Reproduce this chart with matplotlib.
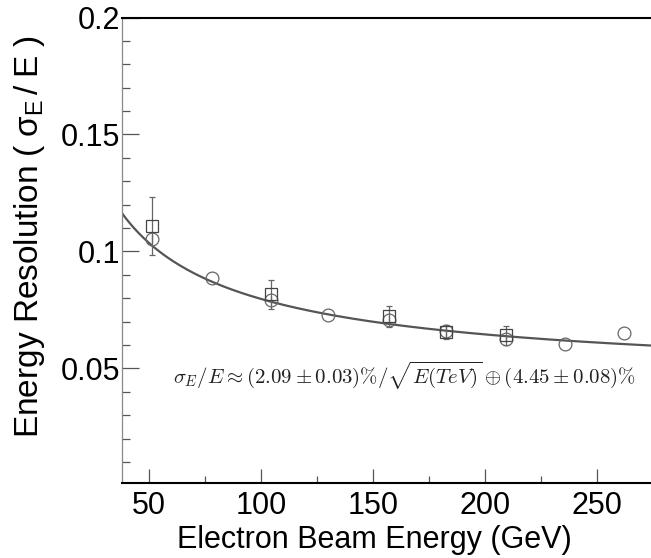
import matplotlib
matplotlib.use("Agg")
import matplotlib.pyplot as plt
import numpy as np
from matplotlib.ticker import MultipleLocator

plt.rcParams['font.family'] = ['Liberation Sans', 'DejaVu Sans']
plt.rcParams['mathtext.fontset'] = 'cm'

# Circles (data set 1)
circ_E = [51.3, 77.9, 104.3, 130.1, 157.0, 182.8, 209.5, 235.8, 262.2]
circ_res = [0.1054, 0.0886, 0.0791, 0.0729, 0.0709, 0.0660, 0.0627, 0.0605, 0.0651]
circ_err = [0.0020, 0.0, 0.0020, 0.0, 0.0020, 0.0020, 0.0015, 0.0, 0.0]

# Squares (data set 2)
sq_E = [51.3, 104.3, 157.0, 182.8, 209.5]
sq_res = [0.1108, 0.0816, 0.0722, 0.0657, 0.0641]
sq_err = [0.0125, 0.0063, 0.0043, 0.0030, 0.0040]

# Fit parameters (%): stochastic term a/sqrt(E[TeV]) (+) constant term b
fit_a = 2.09
fit_b = 4.45

xlim = (37.8, 274.3)
ylim = (0.001, 0.2)

fig = plt.figure(figsize=(6.51, 5.58), dpi=100)
ax = fig.add_axes([0.1874, 0.1344, 1.0 - 0.1874, 0.9686 - 0.1344])

E = np.linspace(xlim[0], xlim[1], 400)
fit = np.sqrt((fit_a / np.sqrt(E / 1000.0)) ** 2 + fit_b ** 2) / 100.0
ax.plot(E, fit, color='#555555', lw=1.6, zorder=2)

ax.errorbar(circ_E, circ_res, yerr=circ_err, fmt='o', ms=9.2, mfc='none',
            mec='#666666', mew=0.9, ecolor='#666666', elinewidth=0.9,
            capsize=0, zorder=3)
ax.errorbar(sq_E, sq_res, yerr=sq_err, fmt='s', ms=8.8, mfc='none',
            mec='#444444', mew=0.9, ecolor='#666666', elinewidth=0.9,
            capsize=2, capthick=0.9, zorder=3)

ax.set_xlim(*xlim)
ax.set_ylim(*ylim)

ax.xaxis.set_major_locator(MultipleLocator(50))
ax.xaxis.set_minor_locator(MultipleLocator(25))
ax.set_yticks([0.05, 0.1, 0.15, 0.2])
ax.set_yticklabels(['0.05', '0.1', '0.15', '0.2'])
ax.yaxis.set_minor_locator(MultipleLocator(0.01))

ax.tick_params(axis='both', which='both', direction='in', colors='#555555',
               labelcolor='black', labelsize=22)
ax.tick_params(axis='y', which='major', length=12, width=0.9, pad=1)
ax.tick_params(axis='y', which='minor', length=6, width=0.9)
ax.tick_params(axis='x', which='major', length=10, width=0.9, pad=6)
ax.tick_params(axis='x', which='minor', length=5, width=0.9)

ax.spines['right'].set_visible(False)
ax.spines['left'].set_color('#888888')
ax.spines['left'].set_linewidth(0.9)
ax.spines['bottom'].set_color('black')
ax.spines['bottom'].set_linewidth(1.5)
ax.spines['top'].set_color('black')
ax.spines['top'].set_linewidth(1.5)

ax.set_xlabel('Electron Beam Energy (GeV)', fontsize=22, va='center')
ax.xaxis.set_label_coords(0.478, -0.1224)
ax.set_ylabel(r'Energy Resolution $\mathregular{(\;\sigma_{E}\,/\;E\;)}$',
              fontsize=24, va='center')
ax.yaxis.set_label_coords(-0.174, 0.529)

ax.text(60.6, 0.047,
        r'$\sigma_E/E \approx (2.09 \pm 0.03)\%/\sqrt{E(TeV)} \oplus (4.45 \pm 0.08)\%$',
        fontsize=15.0, ha='left', va='center', color='#222222')

fig.savefig('out.png', dpi=100)
